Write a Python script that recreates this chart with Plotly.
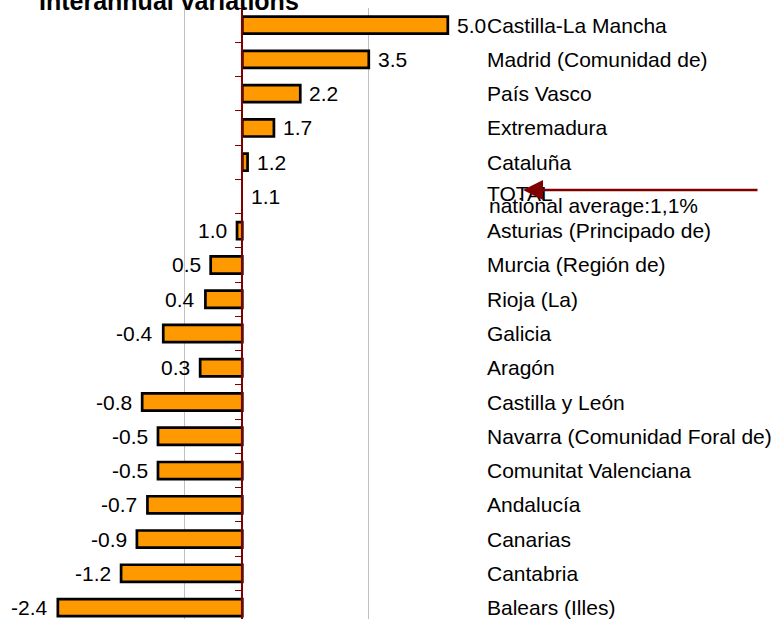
import plotly.graph_objects as go

# ---- data ----
regions = [
    "Castilla-La Mancha", "Madrid (Comunidad de)", "País Vasco", "Extremadura",
    "Cataluña", "TOTAL", "Asturias (Principado de)", "Murcia (Región de)",
    "Rioja (La)", "Galicia", "Aragón", "Castilla y León",
    "Navarra (Comunidad Foral de)", "Comunitat Valenciana", "Andalucía",
    "Canarias", "Cantabria", "Balears (Illes)",
]
# labelled interannual variation (%)
variation = [5.0, 3.5, 2.2, 1.7, 1.2, 1.1, 1.0, 0.5, 0.4, -0.4, 0.3, -0.8,
             -0.5, -0.5, -0.7, -0.9, -1.2, -2.4]
# bar length: difference with respect to the national average
deviation = [3.9, 2.4, 1.1, 0.6, 0.1, 0.0, -0.1, -0.6, -0.7, -1.5, -0.8, -1.9,
             -1.6, -1.6, -1.8, -2.0, -2.3, -3.5]
title_text = "Interannual variations"
avg_text = "national average:1,1%"
grid_values = [-1.1, 2.4]

W, H = 776, 619
FONT = "Liberation Sans, Arial, sans-serif"
RED = "#800000"
ZERO_PX = 242.3
SCALE = 52.7  # px per unit
x_range = [-ZERO_PX / SCALE, (W - ZERO_PX) / SCALE]
top_px = 8.4
row_px = 34.24
y_bottom = -0.5 + (H - top_px) / row_px
axis_pos = ZERO_PX / W

fig = go.Figure()
fig.add_trace(go.Bar(
    x=deviation, y=regions, orientation="h",
    marker=dict(color="#FF9900",
                line=dict(color="black",
                          width=[2.7 if d != 0 else 0 for d in deviation])),
    hoverinfo="skip", showlegend=False,
))

annotations = []
for reg, val, dev in zip(regions, variation, deviation):
    pos = dev >= 0
    annotations.append(dict(
        x=dev, y=reg, xref="x", yref="y", text=f"{val:.1f}", showarrow=False,
        xanchor="left" if pos else "right", yanchor="middle",
        xshift=7 if pos else -8,
        font=dict(family=FONT, size=21, color="black"),
    ))
    annotations.append(dict(
        x=485 / W, y=reg, xref="paper", yref="y", text=reg, showarrow=False,
        xanchor="left", yanchor="middle", yshift=3 if reg == "TOTAL" else 0,
        font=dict(family=FONT, size=21, color="black"),
    ))

annotations.append(dict(
    x=487 / W, y="TOTAL", xref="paper", yref="y", text=avg_text,
    showarrow=False, xanchor="left", yanchor="middle", yshift=-9,
    font=dict(family=FONT, size=21, color="black"),
))
annotations.append(dict(
    x=523 / W, y="TOTAL", xref="paper", yref="y", text="",
    showarrow=True, arrowhead=2, arrowsize=1.6, arrowwidth=2.5,
    arrowcolor=RED, ax=236, ay=0, yshift=6.4, standoff=0,
))
annotations.append(dict(
    x=37 / W, y=1 - (17.3 - top_px) / (H - top_px), xref="paper", yref="paper",
    text=f"<b>{title_text}</b>", showarrow=False, xanchor="left",
    yanchor="bottom", font=dict(family=FONT, size=25, color="black"),
))

fig.update_layout(
    width=W, height=H,
    margin=dict(l=0, r=0, t=top_px, b=0, pad=0),
    paper_bgcolor="white", plot_bgcolor="white",
    bargap=0.5,
    xaxis=dict(range=x_range, showgrid=True, gridcolor="#c0c0c0", gridwidth=1,
               tickvals=grid_values, showticklabels=False, ticks="",
               zeroline=False, showline=False, fixedrange=True),
    yaxis=dict(type="category", range=[y_bottom, -0.5], anchor="free",
               position=axis_pos, showline=True, linecolor=RED, linewidth=1.5,
               ticks="outside", tickson="boundaries", ticklen=7,
               tickcolor=RED, tickwidth=1.3, showticklabels=False,
               showgrid=False, zeroline=False),
    yaxis2=dict(overlaying="y", range=[y_bottom, -0.5], anchor="free",
                position=axis_pos, showline=False,
                tickvals=[i + 0.5 for i in range(len(regions) - 1)],
                ticks="inside", ticklen=7, tickcolor=RED, tickwidth=1.3,
                showticklabels=False, showgrid=False, zeroline=False),
    annotations=annotations,
)

fig.write_html(
    "out.html",
    config={"displayModeBar": False},
    post_script="document.body.style.margin='0';document.body.style.overflow='hidden';",
)
